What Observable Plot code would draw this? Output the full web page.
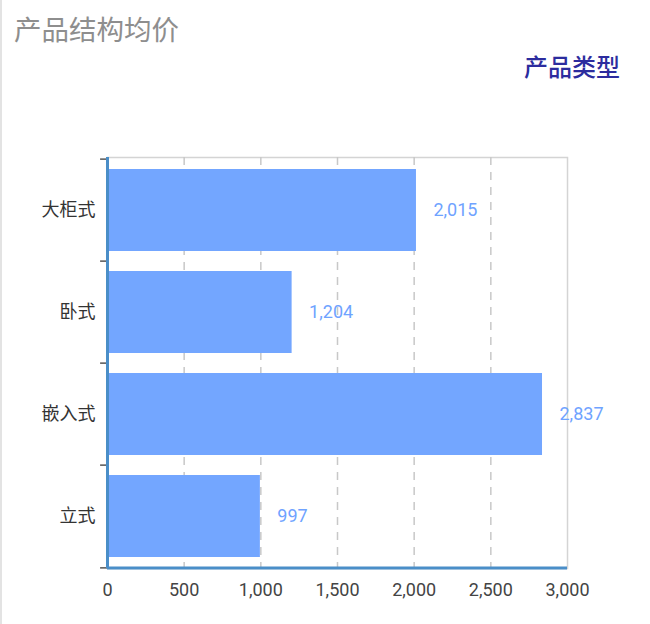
<!DOCTYPE html>
<html>
<head>
<meta charset="utf-8">
<script src="https://cdn.jsdelivr.net/npm/d3@7"></script>
<script src="https://cdn.jsdelivr.net/npm/@observablehq/plot@0.6"></script>
<style>
  html, body { margin: 0; padding: 0; background: #fff; }
  #wrap { width: 648px; height: 624px; border-left: 2px solid #e3e3e3; position: relative; overflow: hidden;
          font-family: Roboto, "Noto Sans CJK SC", sans-serif; }
  #title { height: 50px; line-height: 62px; padding-left: 12px; font-size: 27.5px; color: #8e8e8e; }
  #legend { height: 40px; line-height: 36px; text-align: right; padding-right: 30px; font-size: 24px; font-weight: 500; color: #2c2c9e; }
  #chart svg { display: block; }
</style>
</head>
<body>
<div id="wrap">
  <div id="title">产品结构均价</div>
  <div id="legend">产品类型</div>
  <div id="chart"></div>
</div>
<script>
const categories = ["大柜式", "卧式", "嵌入式", "立式"];
const values = [2015, 1204, 2837, 997];
const xTicks = [0, 500, 1000, 1500, 2000, 2500, 3000];
const gridTicks = [500, 1000, 1500, 2000, 2500];

const data = categories.map((c, i) => ({category: c, value: values[i]}));
const halfStep = 411 / 4 / 2;

const chart = Plot.plot({
  width: 648,
  height: 534,
  marginTop: 67,
  marginBottom: 56,
  marginLeft: 105,
  marginRight: 83,
  style: {fontFamily: 'Roboto, "Noto Sans CJK SC", sans-serif', background: "#fff"},
  x: {domain: [0, 3000], ticks: xTicks, tickFormat: d3.format(","), label: null},
  y: {domain: categories, paddingInner: 0.2, paddingOuter: 0.1, label: null},
  marks: [
    Plot.frame({stroke: "#d4d4d4", strokeWidth: 1.5}),
    Plot.gridX(gridTicks, {stroke: "#c8c8c8", strokeOpacity: 1, strokeWidth: 1.5, strokeDasharray: "8,7"}),
    Plot.barX(data, {x: "value", y: "category", fill: "#73a6ff"}),
    Plot.text(data, {x: "value", y: "category", text: d => d3.format(",")(d.value), dx: 17, textAnchor: "start", fill: "#6fa3ff", fontSize: 18}),
    Plot.axisY({tickSize: 0, tickPadding: 12, fontSize: 18, color: "#333", label: null}),
    Plot.axisX({ticks: xTicks, tickSize: 0, tickPadding: 15, fontSize: 18, color: "#444", tickFormat: d3.format(","), label: null}),
    Plot.ruleY(categories, {y: d => d, x1: -45, x2: 0, dy: -halfStep, stroke: "#555", strokeWidth: 1.5}),
    Plot.ruleY([categories[categories.length - 1]], {y: d => d, x1: -45, x2: 0, dy: halfStep, stroke: "#555", strokeWidth: 1.5}),
    Plot.ruleX([0], {stroke: "#4a8ec8", strokeWidth: 3}),
    Plot.ruleY([categories[categories.length - 1]], {y: d => d, x1: 0, x2: 3000, dy: halfStep, stroke: "#4a8ec8", strokeWidth: 3})
  ]
});
document.getElementById("chart").appendChild(chart);
</script>
</body>
</html>
